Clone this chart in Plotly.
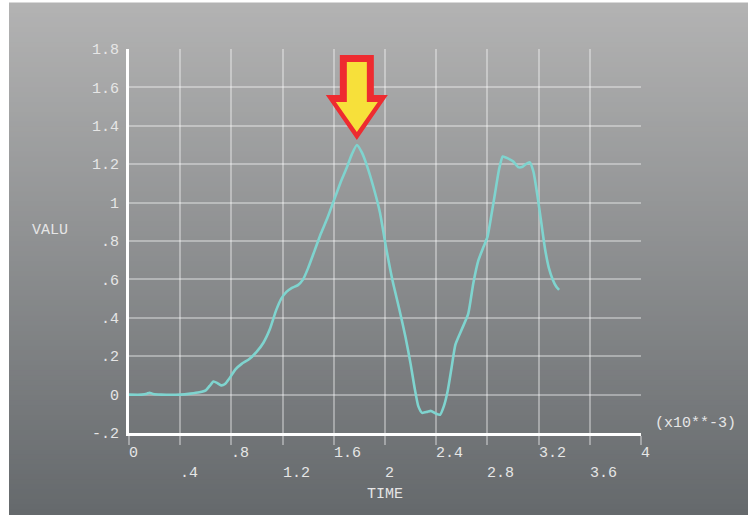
import plotly.graph_objects as go

# Signal history: time (x10**-3) against value
time = [0.00, 0.10, 0.14, 0.16, 0.19, 0.25, 0.40, 0.48, 0.55, 0.60, 0.63, 0.66,
        0.69, 0.72, 0.75, 0.78, 0.83, 0.88, 0.94, 1.00, 1.05, 1.10, 1.15, 1.19,
        1.23, 1.27, 1.32, 1.36, 1.40, 1.45, 1.50, 1.55, 1.60, 1.65, 1.70, 1.74,
        1.78, 1.82, 1.86, 1.91, 1.96, 2.01, 2.06, 2.11, 2.16, 2.20, 2.23, 2.26,
        2.29, 2.33, 2.36, 2.40, 2.43, 2.46, 2.49, 2.52, 2.55, 2.60, 2.65, 2.69,
        2.73, 2.77, 2.80, 2.83, 2.86, 2.89, 2.92, 2.96, 3.00, 3.04, 3.07, 3.10,
        3.13, 3.16, 3.19, 3.22, 3.25, 3.28, 3.31, 3.34, 3.36]
value = [0.000, 0.000, 0.005, 0.010, 0.003, 0.000, 0.000, 0.005, 0.012, 0.022, 0.045, 0.068,
         0.060, 0.048, 0.055, 0.080, 0.130, 0.160, 0.185, 0.225, 0.270, 0.340, 0.440, 0.500,
         0.535, 0.555, 0.570, 0.600, 0.660, 0.750, 0.840, 0.920, 1.010, 1.100, 1.180, 1.250,
         1.300, 1.260, 1.190, 1.080, 0.950, 0.760, 0.590, 0.450, 0.300, 0.160, 0.040, -0.060,
         -0.095, -0.090, -0.085, -0.100, -0.105, -0.060, 0.020, 0.140, 0.260, 0.340, 0.420, 0.580,
         0.700, 0.770, 0.820, 0.930, 1.050, 1.170, 1.240, 1.230, 1.215, 1.185, 1.185, 1.200,
         1.210, 1.160, 1.040, 0.900, 0.760, 0.660, 0.600, 0.560, 0.545]

x_ticks = [0, 0.4, 0.8, 1.2, 1.6, 2.0, 2.4, 2.8, 3.2, 3.6, 4.0]
x_labels = ["0", ".4", ".8", "1.2", "1.6", "2", "2.4", "2.8", "3.2", "3.6", "4"]
y_ticks = [-0.2, 0, 0.2, 0.4, 0.6, 0.8, 1.0, 1.2, 1.4, 1.6, 1.8]
y_labels = ["-.2", "0", ".2", ".4", ".6", ".8", "1", "1.2", "1.4", "1.6", "1.8"]

W, H = 748, 515
L, R, T, B = 129, 107, 49, 82
plot_w, plot_h = W - L - R, H - T - B
X_RANGE = [0, 4]
Y_RANGE = [-0.2, 1.8]
px_per_x = plot_w / (X_RANGE[1] - X_RANGE[0])
px_per_y = plot_h / (Y_RANGE[1] - Y_RANGE[0])

FONT = dict(family="Liberation Mono, DejaVu Sans Mono, monospace", size=15, color="#e6e6e6")


def paper_y(px):
    """Vertical pixel position (from the top of the page) to paper units."""
    return (H - B - px) / plot_h


fig = go.Figure()
fig.add_trace(go.Scatter(
    x=time, y=value, mode="lines",
    line=dict(color="#7fd4cf", width=2.6, shape="spline", smoothing=0.5),
    hoverinfo="skip", showlegend=False,
))

shapes = []

# vertical grey gradient behind the whole chart
top_c = (179, 179, 179)
bot_c = (101, 105, 108)
n_bands = 103
y_top_px, y_bot_px = 3, H
for k in range(n_bands):
    p0 = y_top_px + (y_bot_px - y_top_px) * k / n_bands
    p1 = y_top_px + (y_bot_px - y_top_px) * (k + 1) / n_bands
    f = (k + 0.5) / n_bands
    c = tuple(round(top_c[j] + (bot_c[j] - top_c[j]) * f) for j in range(3))
    shapes.append(dict(
        type="rect", xref="paper", yref="paper", layer="below",
        x0=(9 - L) / plot_w, x1=(W + 5 - L) / plot_w,
        y0=paper_y(p1 + 0.5), y1=paper_y(p0 - 0.5),
        fillcolor="rgb(%d,%d,%d)" % c, line=dict(width=0),
    ))

# downward arrow marking the peak
i_peak = max(range(len(value)), key=lambda i: value[i])
tip_x, tip_y = time[i_peak], value[i_peak] + 5 / px_per_y
outer = [(-17, 85), (17, 85), (17, 45), (31, 45), (0, 0), (-31, 45), (-17, 45)]
inner = [(-10, 78), (10, 78), (10, 38), (21, 38), (0, 8), (-21, 38), (-10, 38)]


def arrow_path(pts):
    coords = ["%.5f,%.5f" % (tip_x + dx / px_per_x, tip_y + dy / px_per_y) for dx, dy in pts]
    return "M" + " L".join(coords) + " Z"


shapes.append(dict(type="path", xref="x", yref="y", layer="above",
                   path=arrow_path(outer), fillcolor="#ee2b30", line=dict(width=0)))
shapes.append(dict(type="path", xref="x", yref="y", layer="above",
                   path=arrow_path(inner), fillcolor="#f7e03a", line=dict(width=0)))

grid_c = "rgba(255,255,255,0.36)"

annotations = [
    dict(text="TIME", xref="paper", yref="paper", x=0.5, y=paper_y(494),
         xanchor="center", yanchor="middle", showarrow=False, font=FONT),
    dict(text="VALU", xref="paper", yref="paper", x=(50 - L) / plot_w,
         y=paper_y(230), xanchor="center", yanchor="middle",
         showarrow=False, font=FONT),
    dict(text="(x10**-3)", xref="paper", yref="paper", x=(653 - L) / plot_w,
         y=paper_y(423), xanchor="left", yanchor="middle",
         showarrow=False, font=FONT),
]

# x tick labels start at their tick and alternate between two rows
for i, (tv, lab) in enumerate(zip(x_ticks, x_labels)):
    annotations.append(dict(
        text=lab, xref="x", yref="paper", x=tv,
        y=paper_y(453 if i % 2 == 0 else 473),
        xanchor="left", yanchor="middle", xshift=-2, showarrow=False, font=FONT,
    ))

fig.update_layout(
    width=W, height=H,
    margin=dict(l=L, r=R, t=T, b=B),
    paper_bgcolor="white",
    plot_bgcolor="rgba(0,0,0,0)",
    font=FONT,
    shapes=shapes,
    annotations=annotations,
    xaxis=dict(
        range=X_RANGE, tickmode="array", tickvals=x_ticks, showticklabels=False,
        showgrid=True, gridcolor=grid_c, gridwidth=1.5, zeroline=False,
        showline=True, linecolor="white", linewidth=3,
        ticks="outside", ticklen=9, tickwidth=1.5, tickcolor=grid_c,
        fixedrange=True,
    ),
    yaxis=dict(
        range=Y_RANGE, tickmode="array", tickvals=y_ticks, ticktext=y_labels,
        showgrid=True, gridcolor=grid_c, gridwidth=1.5, zeroline=False,
        showline=True, linecolor="white", linewidth=3,
        ticks="outside", ticklen=4, tickwidth=1, tickcolor="rgba(0,0,0,0)",
        tickfont=FONT, fixedrange=True,
    ),
)

fig.write_html("out.html", config={"displayModeBar": False})
